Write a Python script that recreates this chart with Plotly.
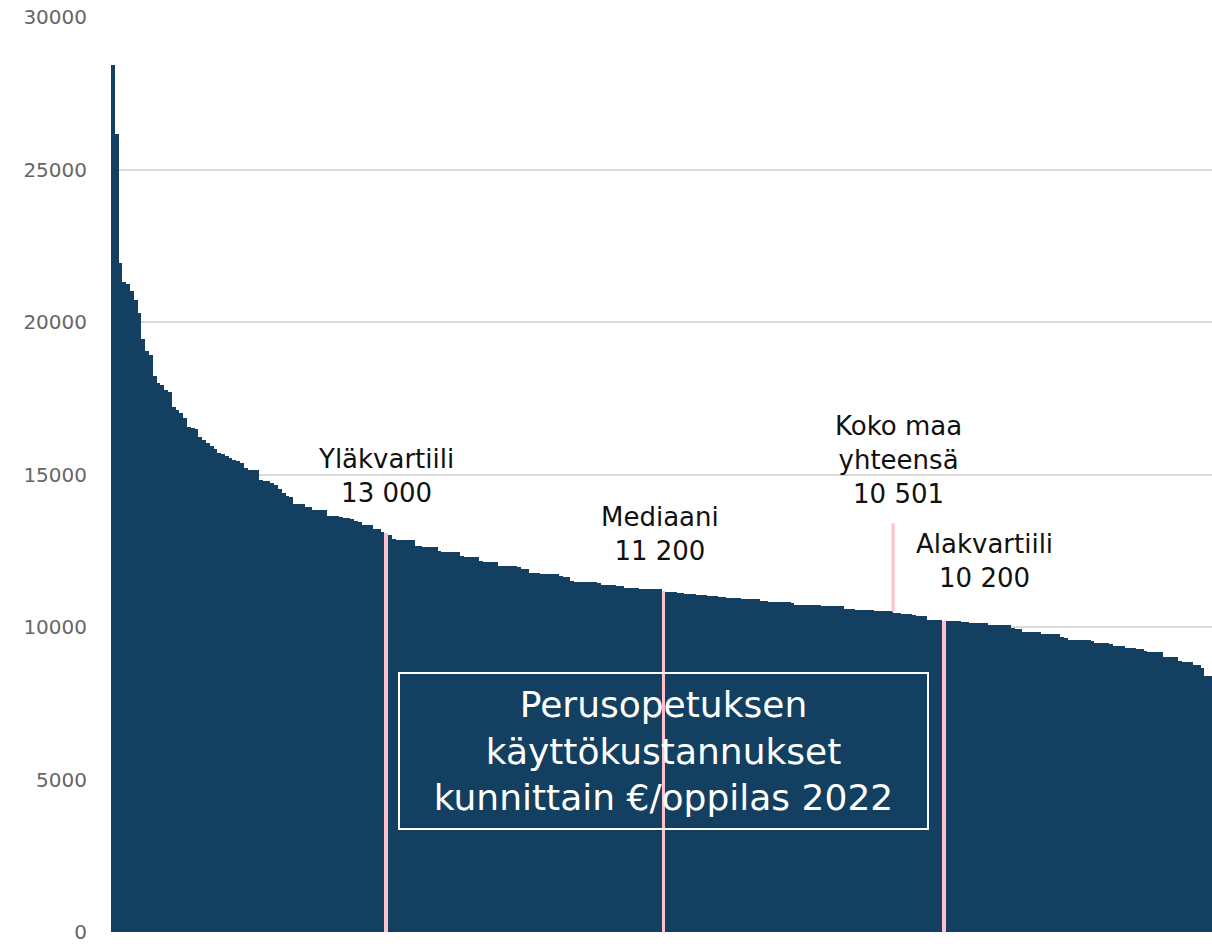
import plotly.graph_objects as go

# Operating costs of basic education per pupil by municipality, 2022 (sorted descending)
values = [
    28430, 26160, 21930, 21320, 21240, 21020, 20720, 20300, 19430, 19050,
    18930, 18230, 17990, 17930, 17770, 17690, 17200, 17110, 17010, 16860,
    16560, 16540, 16490, 16220, 16130, 16040, 15930, 15830, 15720, 15670,
    15610, 15530, 15480, 15440, 15370, 15200, 15160, 15150, 15140, 14820,
    14800, 14780, 14720, 14660, 14540, 14410, 14290, 14250, 14040, 14030,
    14020, 13950, 13940, 13840, 13830, 13830, 13820, 13650, 13640, 13630,
    13620, 13570, 13560, 13550, 13460, 13450, 13350, 13340, 13340, 13210,
    13200, 13130, 13090, 13020, 12880, 12860, 12850, 12850, 12840, 12840,
    12650, 12640, 12630, 12630, 12620, 12610, 12480, 12470, 12470, 12460,
    12460, 12450, 12320, 12310, 12300, 12300, 12290, 12150, 12140, 12140,
    12130, 12130, 12010, 12000, 12000, 11990, 11990, 11980, 11900, 11890,
    11770, 11760, 11760, 11750, 11750, 11740, 11740, 11730, 11680, 11650,
    11640, 11500, 11490, 11480, 11480, 11470, 11460, 11460, 11450, 11390,
    11380, 11380, 11370, 11360, 11360, 11290, 11280, 11270, 11270, 11260,
    11260, 11250, 11250, 11240, 11230, 11180, 11160, 11160, 11150, 11110,
    11100, 11090, 11080, 11070, 11060, 11050, 11040, 11030, 11020, 11010,
    11000, 10990, 10950, 10950, 10940, 10940, 10930, 10930, 10920, 10920,
    10910, 10840, 10840, 10830, 10830, 10820, 10820, 10810, 10810, 10800,
    10730, 10730, 10720, 10720, 10720, 10710, 10710, 10700, 10700, 10690,
    10690, 10680, 10680, 10600, 10590, 10580, 10570, 10560, 10560, 10550,
    10550, 10540, 10530, 10520, 10520, 10510, 10460, 10450, 10440, 10440,
    10430, 10380, 10370, 10360, 10350, 10240, 10230, 10230, 10220, 10210,
    10200, 10200, 10190, 10190, 10150, 10150, 10140, 10140, 10130, 10130,
    10120, 10070, 10070, 10060, 10060, 10050, 10050, 9960, 9950, 9950,
    9850, 9850, 9840, 9840, 9830, 9780, 9770, 9770, 9760, 9760,
    9670, 9650, 9580, 9580, 9570, 9570, 9560, 9560, 9550, 9470,
    9470, 9460, 9460, 9450, 9390, 9390, 9380, 9310, 9300, 9300,
    9290, 9280, 9200, 9190, 9190, 9180, 9180, 9030, 9030, 9020,
    9010, 8870, 8860, 8860, 8850, 8760, 8750, 8650, 8400, 8390,
]
ranks = list(range(len(values)))

# Marker positions (rank index) of quartile municipalities
upper_quartile_idx = 72
median_idx = 145
lower_quartile_idx = 219
national_rank = 205.5
national_value = 10501

label_upper = "Yläkvartiili<br>13 000"
label_median = "Mediaani<br>11 200"
label_national = "Koko maa<br>yhteensä<br>10 501"
label_lower = "Alakvartiili<br>10 200"
title_text = "Perusopetuksen<br>käyttökustannukset<br>kunnittain €/oppilas 2022"

y_ticks = [0, 5000, 10000, 15000, 20000, 25000, 30000]

NAVY = "#134060"
PINK = "#ffc0cb"
FONT = "DejaVu Sans"

colors = [NAVY] * len(values)
for i in (upper_quartile_idx, median_idx, lower_quartile_idx):
    colors[i] = PINK

fig = go.Figure()
fig.add_trace(go.Bar(
    x=ranks, y=values,
    marker=dict(color=colors, line=dict(width=0)),
    hoverinfo="y",
))

fig.add_shape(type="line", xref="x", yref="y",
              x0=national_rank, x1=national_rank, y0=national_value, y1=13400,
              line=dict(color=PINK, width=3))

ann_font = dict(family=FONT, size=26, color="#111111")
fig.add_annotation(x=upper_quartile_idx, y=13850, text=label_upper, showarrow=False,
                   xref="x", yref="y", yanchor="bottom", font=ann_font)
fig.add_annotation(x=median_idx - 1, y=11950, text=label_median, showarrow=False,
                   xref="x", yref="y", yanchor="bottom", font=ann_font)
fig.add_annotation(x=national_rank + 1.5, y=13800, text=label_national, showarrow=False,
                   xref="x", yref="y", yanchor="bottom", font=ann_font)
fig.add_annotation(x=lower_quartile_idx + 10.5, y=11050, text=label_lower, showarrow=False,
                   xref="x", yref="y", yanchor="bottom", font=ann_font)

fig.add_annotation(x=median_idx, y=5950, text=title_text, showarrow=False,
                   xref="x", yref="y", xanchor="center", yanchor="middle",
                   font=dict(family=FONT, size=36, color="white"),
                   bordercolor="white", borderwidth=2, borderpad=6,
                   width=515, height=142, align="center")

fig.update_layout(
    width=1212, height=944,
    margin=dict(l=111, r=0, t=17, b=12),
    paper_bgcolor="white", plot_bgcolor="white",
    bargap=0, showlegend=False,
    font=dict(family=FONT),
    xaxis=dict(range=[-0.5, len(values) - 0.5], visible=False),
    yaxis=dict(range=[0, 30000], tickvals=y_ticks, tickformat="d",
               showgrid=True, gridcolor="#d9d9d9", gridwidth=2,
               zeroline=False, showline=False, ticks="",
               ticklabelstandoff=23,
               tickfont=dict(family=FONT, size=20, color="#666666")),
)

fig.write_html("out.html",
               config={"displayModeBar": False},
               post_script="document.body.style.margin='0';document.body.style.overflow='hidden';")
